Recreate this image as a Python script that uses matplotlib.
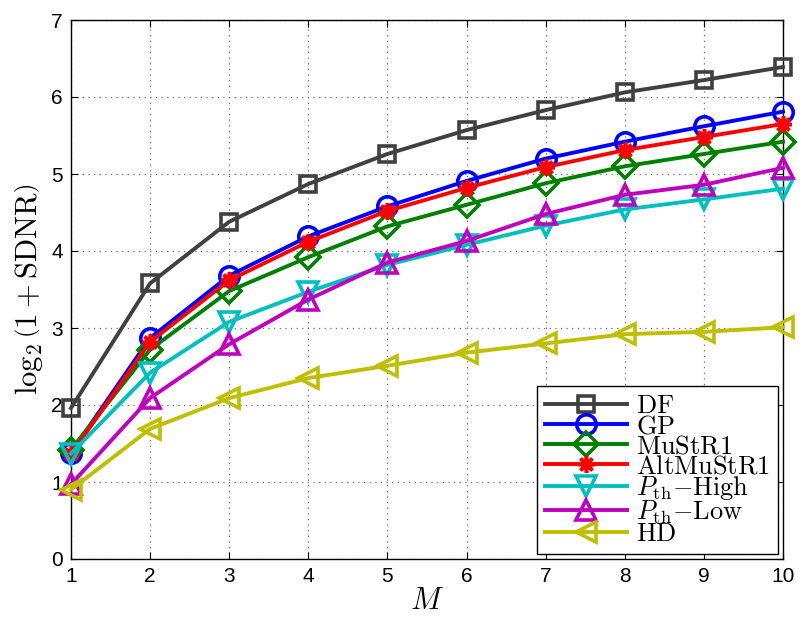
import numpy as np
import matplotlib
matplotlib.use("Agg")
import matplotlib.pyplot as plt

plt.rcParams['mathtext.fontset'] = 'cm'
plt.rcParams['font.family'] = ['Liberation Sans', 'DejaVu Sans']

M = [1, 2, 3, 4, 5, 6, 7, 8, 9, 10]

df = [1.96, 3.58, 4.38, 4.87, 5.26, 5.57, 5.83, 6.06, 6.22, 6.39]
gp = [1.38, 2.87, 3.68, 4.19, 4.58, 4.91, 5.20, 5.42, 5.62, 5.81]
mustr1 = [1.42, 2.72, 3.48, 3.92, 4.32, 4.60, 4.88, 5.10, 5.26, 5.42]
altmustr1 = [1.36, 2.82, 3.62, 4.12, 4.52, 4.82, 5.09, 5.31, 5.48, 5.65]
pth_high = [1.37, 2.42, 3.08, 3.47, 3.82, 4.08, 4.33, 4.54, 4.67, 4.81]
pth_low = [0.97, 2.09, 2.79, 3.37, 3.85, 4.13, 4.48, 4.73, 4.86, 5.08]
hd = [0.90, 1.69, 2.09, 2.35, 2.51, 2.68, 2.80, 2.92, 2.95, 3.01]

labels = [r'$\mathrm{DF}$', r'$\mathrm{GP}$', r'$\mathrm{MuStR1}$', r'$\mathrm{AltMuStR1}$',
          r'$P_{\mathrm{th}}\mathrm{-High}$', r'$P_{\mathrm{th}}\mathrm{-Low}$', r'$\mathrm{HD}$']

fig = plt.figure(figsize=(8.11, 6.21), dpi=100)
ax = fig.add_axes([71/811, 1-559/621, (783-71)/811, (559-20)/621])

series = [df, gp, mustr1, altmustr1, pth_high, pth_low, hd]
colors = ['#404040', '#0000ff', '#008000', '#ff0000', '#00bfbf', '#bf00bf', '#bfbf00']
markers = ['s', 'o', 'D', (8, 2, 0), 'v', '^', '<']
sizes = [12, 14, 12, 12, 14, 14, 14]

for y, c, m, s, lab in zip(series, colors, markers, sizes, labels):
    ax.plot(M, y, color=c, lw=2.8, marker=m, ms=s, mfc='none', mec=c, mew=2.6,
            label=lab, clip_on=False, zorder=3)

ax.set_xlim(1, 10)
ax.set_ylim(0, 7)
ax.set_xticks(M)
ax.set_yticks(range(0, 8))
ax.tick_params(direction='in', top=True, right=True, labelsize=15, length=5, pad=6)
ax.grid(True, linestyle=(0, (1, 3.5)), color='#707070', lw=0.9)
for sp in ax.spines.values():
    sp.set_linewidth(1.0)

ax.set_xlabel(r'$M$', fontsize=22, labelpad=0)
ax.set_ylabel(r'$\log_2\left(1+\mathrm{SDNR}\right)$', fontsize=22, labelpad=4)

leg = ax.legend(loc='lower right', fontsize=19, handlelength=3.1, labelspacing=-0.15,
                handleheight=0.6, borderpad=0.3, handletextpad=0.35, borderaxespad=0.2,
                fancybox=False, framealpha=1, edgecolor='black')
leg.get_frame().set_linewidth(1.0)

fig.savefig('out.png', dpi=100)
